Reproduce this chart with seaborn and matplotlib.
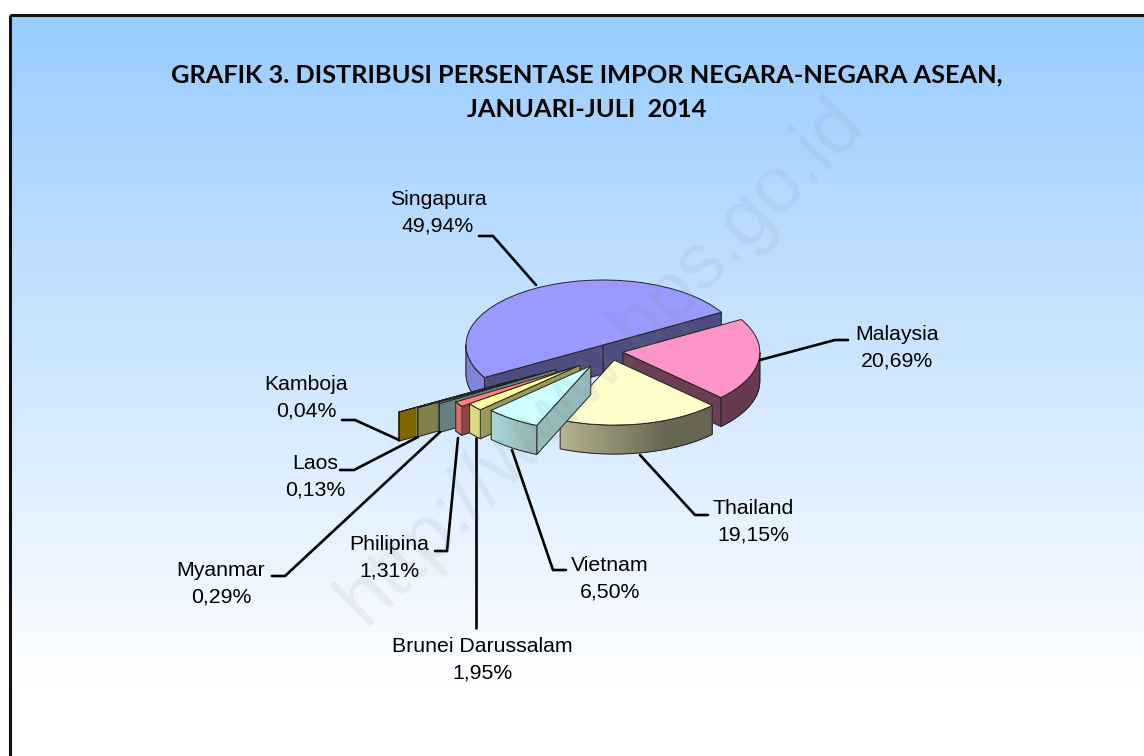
import numpy as np
import matplotlib
matplotlib.use("Agg")
import matplotlib.pyplot as plt
from matplotlib.collections import PolyCollection
from matplotlib.patches import Rectangle
import seaborn as sns

sns.set_theme(style="white")
plt.rcParams['font.family'] = ['Liberation Sans', 'DejaVu Sans']

title = "GRAFIK 3. DISTRIBUSI PERSENTASE IMPOR NEGARA-NEGARA ASEAN,\nJANUARI-JULI  2014"
countries = ["Singapura", "Malaysia", "Thailand", "Vietnam", "Brunei Darussalam",
             "Philipina", "Myanmar", "Laos", "Kamboja"]
shares = [49.94, 20.69, 19.15, 6.50, 1.95, 1.31, 0.29, 0.13, 0.04]
slice_colors = ["#9999FF", "#FF94C8", "#FFFFCC", "#CCFFFF", "#FFFF99",
                "#FF8080", "#CCFFFF", "#FFFF99", "#FFCC00"]

# layout of the 3d look, in pixels of the picture
W, H = 1144, 756
cx, cy, a, b, depth = 603, 345, 137, 65, 29
explode = [0, 0.146, 0.08, 0.22, 0.22, 0.27, 0.40, 0.57, 0.72]
nudge_x = [0, 0, 9, 5, 0, 0, 0, 0, 0]
nudge_y = [0, 6, 10, 9, 11, 13, 11, 11, 11]
cut_shade = [0.50, 0.42, 0.42, 0.73, 0.60, 0.55, 0.50, 0.50, 0.50]
draw_order = [0, 1, 2, 8, 7, 6, 5, 4, 3]

fig = plt.figure(figsize=(W / 100, H / 100), dpi=100, facecolor="white")

# background panel with the gradient
bg = fig.add_axes([0, 0, 1, 1], zorder=0)
bg.axis("off")
grad = sns.blend_palette(["#99CCFF", "#FFFFFF"], as_cmap=True)
bg.imshow(np.linspace(0, 1, 256)[:, None], cmap=grad, aspect="auto", extent=(10, W + 5, 690, 15), zorder=1)
bg.set_xlim(0, W)
bg.set_ylim(H, 0)
bg.add_patch(Rectangle((10, 15), W + 20, H + 20, facecolor="none", edgecolor="#111111", linewidth=2.2, zorder=2))

# pie, one data unit is a px wide and b px high
ax = fig.add_axes([0, 0, 1, 1], zorder=1)
wedges, _ = ax.pie(shares, explode=explode, startangle=210, counterclock=False,
                   colors=sns.color_palette(slice_colors), radius=1,
                   wedgeprops={"edgecolor": "#222222", "linewidth": 0.7})
ax.set_aspect("auto")
ax.set_xlim(-cx / a, (W - cx) / a)
ax.set_ylim((cy - H) / b, cy / b)
ax.axis("off")
d = depth / b


def shaded(color, k):
    return tuple(np.array(color[:3]) * k)


for z, i in enumerate(draw_order):
    w = wedges[i]
    rgb = matplotlib.colors.to_rgb(slice_colors[i])
    x0 = w.center[0] + nudge_x[i] / a
    y0 = w.center[1] - nudge_y[i] / b
    w.set_center((x0, y0))
    base = 10 + z * 5
    w.set_zorder(base + 4)

    # flat cut faces
    for ang, show in [(w.theta1, np.cos(np.radians(w.theta1)) > 0), (w.theta2, np.cos(np.radians(w.theta2)) < 0)]:
        if show:
            ex = x0 + np.cos(np.radians(ang))
            ey = y0 + np.sin(np.radians(ang))
            ax.fill([x0, ex, ex, x0], [y0, ey, ey - d, y0 - d], color=shaded(rgb, cut_shade[i]),
                    ec="#222222", lw=0.7, zorder=base + 1)

    # curved wall, split in strips for the shading
    th = np.radians(np.linspace(w.theta1, w.theta2, 361))
    th = th[np.sin(th) < 0]
    if len(th) > 1:
        xs = x0 + np.cos(th)
        ys = y0 + np.sin(th)
        strips = [[(xs[k], ys[k]), (xs[k + 1], ys[k + 1]), (xs[k + 1], ys[k + 1] - d), (xs[k], ys[k] - d)]
                  for k in range(len(th) - 1)]
        shade = np.clip(0.55 - 0.4 * np.cos(th[:-1]), 0.4, 0.85)
        cols = [shaded(rgb, s) for s in shade]
        ax.add_collection(PolyCollection(strips, facecolors=cols, edgecolors=cols, linewidths=0.3, zorder=base + 2))
        ax.plot(np.r_[xs, xs[::-1], xs[0]], np.r_[ys, ys[::-1] - d, ys[0]], color="#222222", lw=0.7, zorder=base + 3)

# text and leader lines on top
top = fig.add_axes([0, 0, 1, 1], zorder=2)
top.set_xlim(0, W)
top.set_ylim(H, 0)
top.axis("off")
top.patch.set_alpha(0)

top.text(587, 92, title, ha="center", va="center", fontsize=18.3, fontweight="bold", color="#000000",
         linespacing=1.6, family=["Lato", "Liberation Sans"])
top.text(602, 362, "http://www.bps.go.id", ha="center", va="center", rotation=45, fontsize=57, color="#888888",
         alpha=0.11, rotation_mode="anchor")

label_x = [438, 897, 753, 610, 482, 389, 221, 315, 306]
label_y = [213, 348, 522, 579, 660, 558, 584, 477, 398]
leaders = [
    ([536, 493, 479], [285, 236, 236]),
    ([760, 835, 848], [360, 340, 340]),
    ([640, 695, 708], [455, 515, 515]),
    ([512, 553, 566], [450, 570, 570]),
    ([476, 476], [438, 628]),
    ([458, 447, 435], [438, 551, 551]),
    ([440, 285, 272], [432, 576, 576]),
    ([418, 354, 340], [437, 470, 470]),
    ([399, 355, 342], [440, 420, 420]),
]
for name, val, lx, ly, (px, py) in zip(countries, shares, label_x, label_y, leaders):
    txt = name + "\n" + f"{val:.2f}".replace(".", ",") + "%"
    top.text(lx, ly, txt, ha="center", va="center", fontsize=15.3, color="#000000", linespacing=1.53)
    top.plot(px, py, color="black", lw=1.9, solid_joinstyle="miter")

plt.savefig("out.png", dpi=100)
